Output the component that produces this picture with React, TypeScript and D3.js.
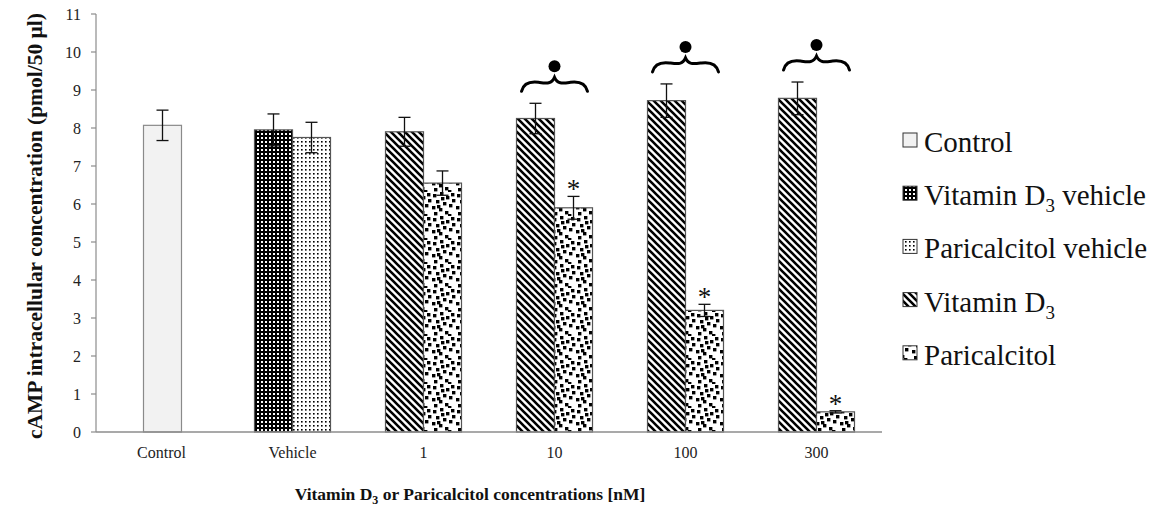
import React from "react";
import * as d3 from "d3";

const categories = ["Control", "Vehicle", "1", "10", "100", "300"];
const yTicks = [0, 1, 2, 3, 4, 5, 6, 7, 8, 9, 10, 11];

// values per category (null = no bar)
const controlVals = [8.07, null, null, null, null, null];
const controlErr = [0.4, null, null, null, null, null];
const d3VehicleVals = [null, 7.95, null, null, null, null];
const d3VehicleErr = [null, 0.42, null, null, null, null];
const parVehicleVals = [null, 7.75, null, null, null, null];
const parVehicleErr = [null, 0.4, null, null, null, null];
const vitD3Vals = [null, null, 7.9, 8.25, 8.72, 8.78];
const vitD3Err = [null, null, 0.38, 0.4, 0.44, 0.43];
const paricVals = [null, null, 6.55, 5.9, 3.2, 0.53];
const paricErr = [null, null, 0.32, 0.3, 0.16, 0.03];
const paricStar = [false, false, false, true, true, true];
const vitD3Brace = [false, false, false, true, true, true];

const legendItems = [
  { key: "control", label: ["Control", "", ""] },
  { key: "d3veh", label: ["Vitamin D", "3", " vehicle"] },
  { key: "parveh", label: ["Paricalcitol vehicle", "", ""] },
  { key: "vitd3", label: ["Vitamin D", "3", ""] },
  { key: "paric", label: ["Paricalcitol", "", ""] },
];

const W = 1155;
const H = 513;
const left = 96;
const right = 882;
const top = 14;
const bottom = 432;
const barW = 38;
const serif = "Liberation Serif";

const paricSquares = [
  [1, 2], [8, 0], [14, 4], [4, 8], [11, 10], [17, 12], [0, 14], [7, 16], [13, 19], [2, 20], [19, 1], [20, 7], [9, 5], [16, 22], [5, 13],
];

export default function App() {
  const x = d3.scaleBand<string>().domain(categories).range([left, right]).padding(0);
  const y = d3.scaleLinear().domain([0, 11]).range([bottom, top]);
  const fills: Record<string, string> = {
    control: "#f2f2f2",
    d3veh: "url(#pD3veh)",
    parveh: "url(#pParveh)",
    vitd3: "url(#pStripe)",
    paric: "url(#pParic)",
  };

  type Bar = { key: string; x: number; v: number; e: number; i: number };
  const bars: Bar[] = [];
  categories.forEach((c, i) => {
    const cx = (x(c) as number) + x.bandwidth() / 2;
    if (controlVals[i] != null) bars.push({ key: "control", x: cx - barW / 2 + 1, v: controlVals[i] as number, e: controlErr[i] as number, i });
    if (d3VehicleVals[i] != null) bars.push({ key: "d3veh", x: cx - barW, v: d3VehicleVals[i] as number, e: d3VehicleErr[i] as number, i });
    if (parVehicleVals[i] != null) bars.push({ key: "parveh", x: cx, v: parVehicleVals[i] as number, e: parVehicleErr[i] as number, i });
    if (vitD3Vals[i] != null) bars.push({ key: "vitd3", x: cx - barW, v: vitD3Vals[i] as number, e: vitD3Err[i] as number, i });
    if (paricVals[i] != null) bars.push({ key: "paric", x: cx, v: paricVals[i] as number, e: paricErr[i] as number, i });
  });

  const bracePath = "M -33,1 C -31,-7 -24,-9 -16,-8 C -8,-7 -3,-6 0,-13 C 3,-6 8,-7 16,-8 C 24,-9 31,-7 33,1";

  return (
    <svg width={W} height={H} style={{ position: "absolute", left: 0, top: 0, background: "#fff" }} fontFamily={serif}>
      <defs>
        <pattern id="pD3veh" patternUnits="userSpaceOnUse" width={4} height={4}>
          <rect width={4} height={4} fill="#000" />
          <rect x={1} y={1} width={2} height={2} fill="#fff" />
        </pattern>
        <pattern id="pParveh" patternUnits="userSpaceOnUse" width={4} height={4}>
          <rect width={4} height={4} fill="#fff" />
          <rect x={1} y={1} width={1.6} height={1.6} fill="#000" />
        </pattern>
        <pattern id="pStripe" patternUnits="userSpaceOnUse" width={7} height={7}>
          <rect width={7} height={7} fill="#fff" />
          <path d="M-2,-2 L9,9 M-2,5 L2,9 M5,-2 L9,2" stroke="#000" strokeWidth={2.6} />
        </pattern>
        <pattern id="pParic" patternUnits="userSpaceOnUse" width={24} height={24}>
          <rect width={24} height={24} fill="#fff" />
          {paricSquares.map(([a, b], k) => (
            <rect key={k} x={a} y={b} width={3.4} height={3.4} fill="#000" />
          ))}
        </pattern>
      </defs>

      {/* axes */}
      <line x1={left} x2={left} y1={top} y2={bottom} stroke="#8c8c8c" strokeWidth={1.2} />
      {yTicks.map((t) => (
        <g key={t}>
          <line x1={left - 5} x2={left} y1={y(t)} y2={y(t)} stroke="#8c8c8c" strokeWidth={1.2} />
          <text x={81} y={y(t)} dy="0.35em" textAnchor="end" fontSize={16} fontFamily={serif} fill="#222">
            {t}
          </text>
        </g>
      ))}

      {/* bars */}
      {bars.map((b, k) => (
        <rect
          key={k}
          x={b.x}
          y={y(b.v)}
          width={barW}
          height={bottom - y(b.v)}
          fill={fills[b.key]}
          stroke={b.key === "control" ? "#8a8a8a" : "#555"}
          strokeWidth={1.2}
        />
      ))}
      <line x1={left} x2={right} y1={bottom} y2={bottom} stroke="#8c8c8c" strokeWidth={1.5} />

      {/* error bars */}
      {bars.map((b, k) => {
        const cx = b.x + barW / 2;
        return (
          <g key={k} stroke="#111" strokeWidth={1.3}>
            <line x1={cx} x2={cx} y1={y(b.v + b.e)} y2={y(b.v - b.e)} />
            <line x1={cx - 6} x2={cx + 6} y1={y(b.v + b.e)} y2={y(b.v + b.e)} />
            <line x1={cx - 6} x2={cx + 6} y1={y(b.v - b.e)} y2={y(b.v - b.e)} />
          </g>
        );
      })}

      {/* significance asterisks */}
      {bars
        .filter((b) => b.key === "paric" && paricStar[b.i])
        .map((b, k) => (
          <text key={k} x={b.x + barW / 2} y={y(b.v + b.e) + 2} textAnchor="middle" fontSize={27} fontFamily={serif} fill="#111">
            *
          </text>
        ))}

      {/* braces with dots */}
      {categories.map((c, i) => {
        if (!vitD3Brace[i]) return null;
        const cx = (x(c) as number) + x.bandwidth() / 2;
        const y0 = y((vitD3Vals[i] as number) + (vitD3Err[i] as number)) - 13;
        return (
          <g key={c} transform={`translate(${cx},${y0})`}>
            <path d={bracePath} fill="none" stroke="#000" strokeWidth={3} strokeLinecap="round" />
            <circle cx={0} cy={-24} r={6} fill="#000" />
          </g>
        );
      })}

      {/* category labels */}
      {categories.map((c) => (
        <text key={c} x={(x(c) as number) + x.bandwidth() / 2} y={458} textAnchor="middle" fontSize={16} fontFamily={serif} fill="#222">
          {c}
        </text>
      ))}

      {/* axis titles */}
      <text x={470} y={500} textAnchor="middle" fontSize={17.5} fontWeight="bold" fontFamily={serif} fill="#111">
        Vitamin D<tspan fontSize={12} dy={4}>3</tspan>
        <tspan dy={-4}> or Paricalcitol concentrations [nM]</tspan>
      </text>
      <text
        transform={`translate(42,226) rotate(-90)`}
        textAnchor="middle"
        fontSize={20.5}
        fontWeight="bold"
        fontFamily={serif}
        fill="#111"
        textLength={426}
        lengthAdjust="spacingAndGlyphs"
      >
        cAMP intracellular concentration (pmol/50 µl)
      </text>

      {/* legend */}
      {legendItems.map((it, k) => {
        const by = 152 + k * 53.2;
        return (
          <g key={it.key}>
            <rect x={903} y={by - 19} width={14} height={14} fill={fills[it.key]} stroke="#333" strokeWidth={1} />
            <text x={924} y={by} fontSize={29} fontFamily={serif} fill="#111" style={{ whiteSpace: "pre" }}>
              {it.label[0]}
              {it.label[1] ? (
                <tspan fontSize={19} dy={7}>
                  {it.label[1]}
                </tspan>
              ) : null}
              {it.label[2] ? <tspan dy={-7}>{it.label[2]}</tspan> : null}
            </text>
          </g>
        );
      })}
    </svg>
  );
}
